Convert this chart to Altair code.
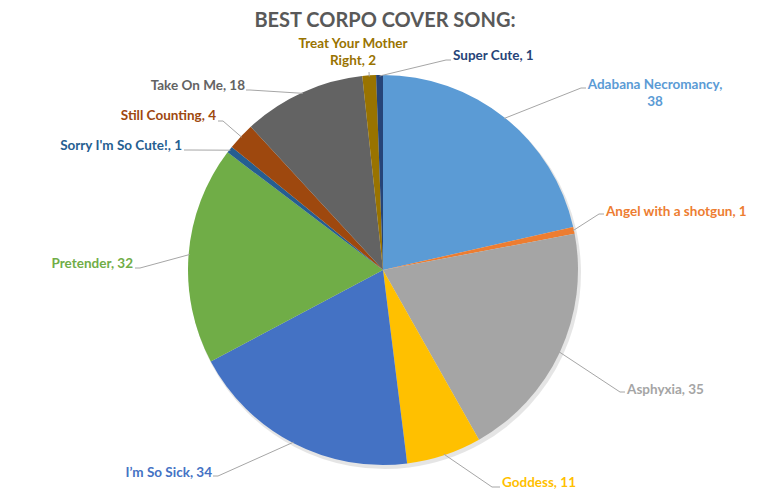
import altair as alt
import pandas as pd
import numpy as np

# ---- data ----
songs = ["Adabana Necromancy", "Angel with a shotgun", "Asphyxia", "Goddess",
         "I’m So Sick", "Pretender", "Sorry I'm So Cute!", "Still Counting",
         "Take On Me", "Treat Your Mother Right", "Super Cute"]
votes = [38, 1, 35, 11, 34, 32, 1, 4, 18, 2, 1]
labels = ["Adabana Necromancy,\n38", "Angel with a shotgun, 1", "Asphyxia, 35",
          "Goddess, 11", "I’m So Sick, 34", "Pretender, 32", "Sorry I'm So Cute!, 1",
          "Still Counting, 4", "Take On Me, 18", "Treat Your Mother\nRight, 2",
          "Super Cute, 1"]
colors = ["#5B9BD5", "#ED7D31", "#A5A5A5", "#FFC000", "#4472C4", "#70AD47",
          "#255E91", "#9E480E", "#636363", "#997300", "#264478"]

# ---- label layout (page pixels) ----
label_x = [655, 606, 627, 502, 212, 133, 182, 216, 245, 353, 453]
label_y = [85, 212, 390, 483, 473, 264, 146, 116, 86, 44, 56]
label_align = ["center", "left", "left", "left", "right", "right", "right",
               "right", "right", "center", "left"]
elbow_x = [581, 599, 620, 492, 218, 140, 189, 223, 250, 369, 446]
elbow_y = [88, 214, 392, 487, 476, 268, 150, 121, 90, 72, 60]
tail_x = [586, 604, 625, 500, 213, 135, 184, 218, 246, 369, 451]
tail_y = [88, 214, 392, 487, 476, 268, 150, 121, 90, 72, 60]

CX, CY, R = 383, 270, 195  # page coords of pie centre, radius
W, H = 751, 488

df = pd.DataFrame({"song": songs, "votes": votes, "label": labels,
                   "idx": range(len(songs)), "lx": label_x, "ly": label_y,
                   "align": label_align})

# leader lines: from slice mid-angle on the pie edge to elbow then tail
total = sum(votes)
cum = np.cumsum(votes)
rows = []
for i, s in enumerate(songs):
    ang = 2 * np.pi * (cum[i] - votes[i] / 2) / total
    sx = CX + (R - 1) * np.sin(ang)
    sy = CY - (R - 1) * np.cos(ang)
    rows += [{"song": s, "o": 0, "x": sx, "y": sy},
             {"song": s, "o": 1, "x": elbow_x[i], "y": elbow_y[i]},
             {"song": s, "o": 2, "x": tail_x[i], "y": tail_y[i]}]
lines = pd.DataFrame(rows)

xs = alt.Scale(domain=[8, 8 + W], range=[0, W], nice=False, zero=False)
ys = alt.Scale(domain=[8, 8 + H], range=[0, H], nice=False, zero=False)
cscale = alt.Scale(domain=songs, range=colors)

shadow = alt.Chart(df).mark_arc(radius=R + 1, color="#000000", opacity=0.10).encode(
    theta=alt.Theta("votes:Q", stack=True),
    order=alt.Order("idx:Q"),
    x=alt.value(CX - 8 + 2), y=alt.value(CY - 8 + 3),
)

pie = alt.Chart(df).mark_arc(radius=R).encode(
    theta=alt.Theta("votes:Q", stack=True),
    color=alt.Color("song:N", scale=cscale, legend=None),
    order=alt.Order("idx:Q"),
    x=alt.value(CX - 8), y=alt.value(CY - 8),
)

leaders = alt.Chart(lines).mark_line(color="#A6A6A6", strokeWidth=1).encode(
    x=alt.X("x:Q", scale=xs, axis=None),
    y=alt.Y("y:Q", scale=ys, axis=None),
    detail="song:N",
    order="o:Q",
)

def text_layer(al):
    return alt.Chart(df).transform_filter(alt.datum.align == al).mark_text(
        align=al, baseline="middle", font="Lato", fontSize=13.5, fontWeight="bold",
        lineBreak="\n", lineHeight=17,
    ).encode(
        x=alt.X("lx:Q", scale=xs, axis=None),
        y=alt.Y("ly:Q", scale=ys, axis=None),
        text="label:N",
        color=alt.Color("song:N", scale=cscale, legend=None),
    )

title_df = pd.DataFrame({"t": ["BEST CORPO COVER SONG:"], "x": [385], "y": [21]})
title = alt.Chart(title_df).mark_text(
    font="Lato", fontSize=20, fontWeight="bold", color="#595959",
    align="center", baseline="middle",
).encode(
    x=alt.X("x:Q", scale=xs, axis=None),
    y=alt.Y("y:Q", scale=ys, axis=None),
    text="t:N",
)

chart = alt.layer(
    shadow, pie, leaders,
    text_layer("left"), text_layer("right"), text_layer("center"),
    title,
).properties(
    width=W, height=H,
    autosize=alt.AutoSizeParams(type="none"),
    padding=0, background="white",
).configure_view(stroke=None).resolve_scale(color="shared")

chart.save("out.html", embed_options={"renderer": "svg", "actions": False})
